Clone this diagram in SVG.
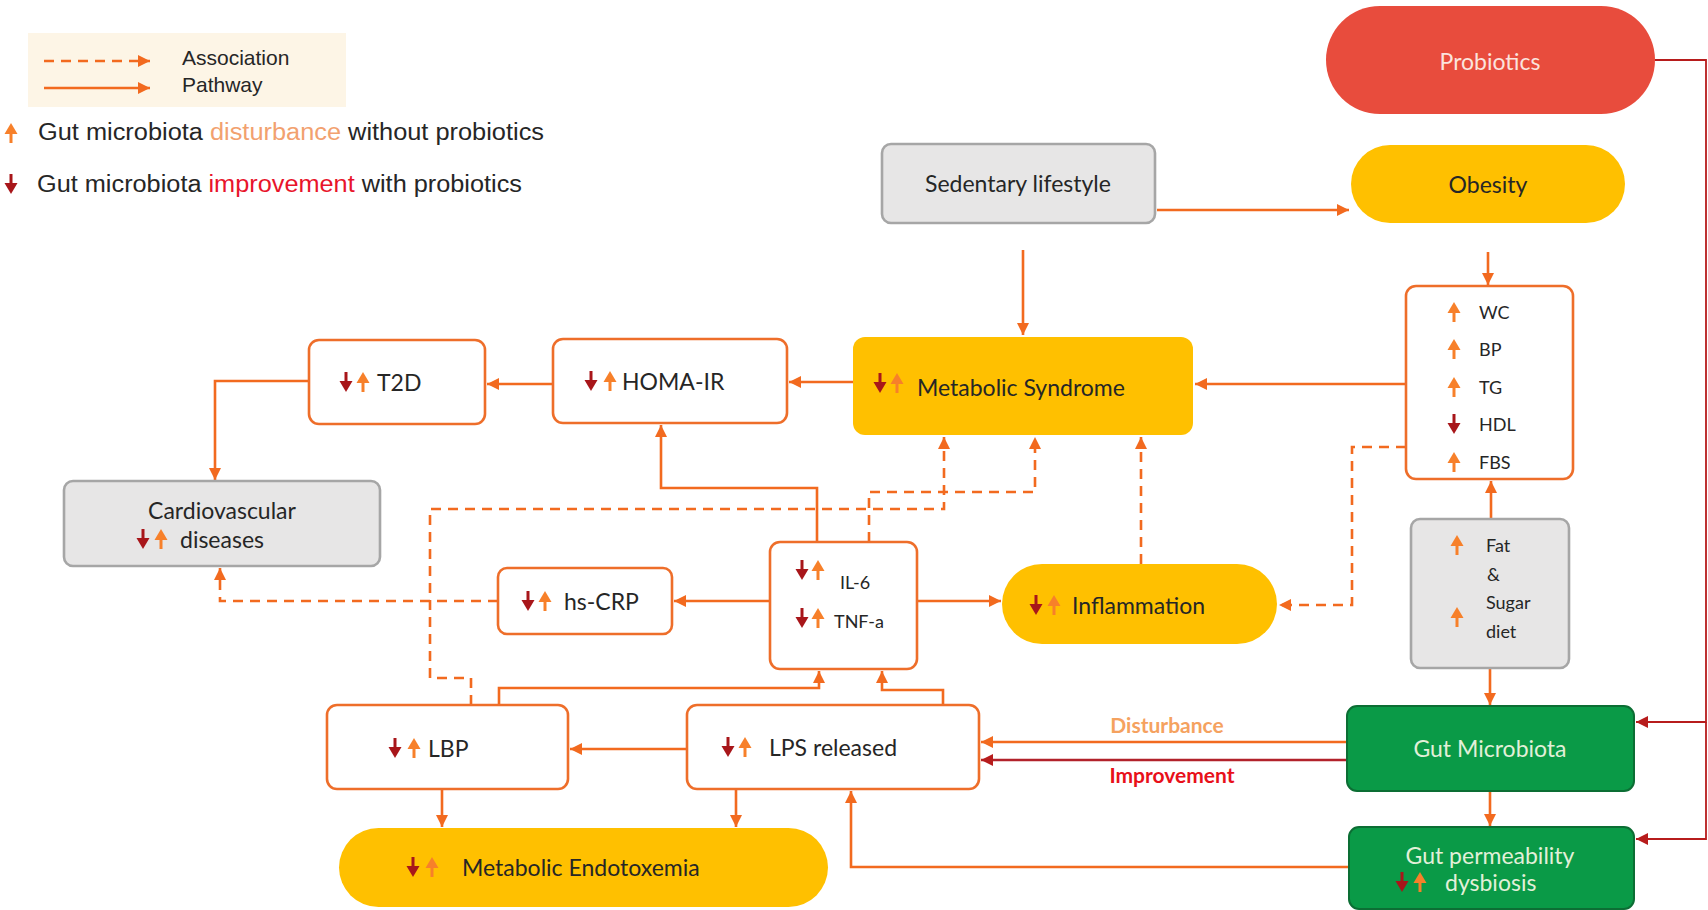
<svg xmlns="http://www.w3.org/2000/svg" width="1708" height="910" viewBox="0 0 1708 910">
<style>
.lbl{font-family:Lato,"Open Sans","Liberation Sans",sans-serif;font-size:23px;fill:#262626;dominant-baseline:central}
.sm{font-size:18px}
.leg{font-family:"Liberation Sans",Arial,sans-serif;fill:#262626;dominant-baseline:central}
.ob{fill:#fff;stroke:#EE6E2A;stroke-width:2.6}
.gy{fill:#E7E6E6;stroke:#A6A6A6;stroke-width:2.6}
.yl{fill:#FFC000}
.gr{fill:#0A9A47;stroke:#0C6E34;stroke-width:2}
.c{fill:none;stroke:#F26A1F;stroke-width:2.6}
.d{fill:none;stroke:#F26A1F;stroke-width:2.6;stroke-dasharray:10 7}
.r{fill:none;stroke:#B71C1C;stroke-width:1.8}
.lt{fill:#E2F0D9}
</style>
<defs>
<marker id="ah" viewBox="0 0 10 10" refX="10" refY="5" markerWidth="13" markerHeight="12" markerUnits="userSpaceOnUse" orient="auto"><path d="M0,0 L10,5 L0,10 z" fill="#F26A1F"/></marker>
<marker id="ar" viewBox="0 0 10 10" refX="10" refY="5" markerWidth="13" markerHeight="12" markerUnits="userSpaceOnUse" orient="auto"><path d="M0,0 L10,5 L0,10 z" fill="#B71C1C"/></marker>
<symbol id="dn" viewBox="-6 -11 12 22" width="12" height="22" overflow="visible"><path d="M0,-10 V2" stroke="#A8161A" stroke-width="3"/><path d="M-6.5,-1 H6.5 L0,10 z" fill="#A8161A"/></symbol>
<symbol id="up" viewBox="-6 -11 12 22" width="12" height="22" overflow="visible"><path d="M0,10 V-2" stroke="#F7802A" stroke-width="3"/><path d="M-6.5,1 H6.5 L0,-10 z" fill="#F7802A"/></symbol>
</defs>

<g id="legend">
<rect x="28" y="33" width="318" height="74" fill="#FDF5E6"/>
<path d="M44,61 H150" class="d" marker-end="url(#ah)"/>
<path d="M44,88 H150" class="c" marker-end="url(#ah)"/>
<text x="182" y="57" class="leg" font-size="21">Association</text>
<text x="182" y="84" class="leg" font-size="21">Pathway</text>
<use href="#up" x="5" y="122"/>
<text x="38" y="132" class="leg" font-size="23" textLength="506" lengthAdjust="spacingAndGlyphs">Gut microbiota <tspan fill="#F2A16F">disturbance</tspan> without probiotics</text>
<use href="#dn" x="5" y="173"/>
<text x="37" y="184" class="leg" font-size="23" textLength="485" lengthAdjust="spacingAndGlyphs">Gut microbiota <tspan fill="#E8142B">improvement</tspan> with probiotics</text>
</g>

<g id="connectors">
<path d="M1655,60 H1706 V722 H1636" class="r" marker-end="url(#ar)"/>
<path d="M1706,722 V839 H1636" class="r" marker-end="url(#ar)"/>
<path d="M1157,210 H1349" class="c" marker-end="url(#ah)"/>
<path d="M1023,250 V335" class="c" marker-end="url(#ah)"/>
<path d="M1488,252 V285" class="c" marker-end="url(#ah)"/>
<path d="M1406,384 H1195" class="c" marker-end="url(#ah)"/>
<path d="M853,382 H789" class="c" marker-end="url(#ah)"/>
<path d="M553,384 H487" class="c" marker-end="url(#ah)"/>
<path d="M309,381 H215 V480" class="c" marker-end="url(#ah)"/>
<path d="M817,542 V488 H661 V425" class="c" marker-end="url(#ah)"/>
<path d="M770,601 H674" class="c" marker-end="url(#ah)"/>
<path d="M917,601 H1001" class="c" marker-end="url(#ah)"/>
<path d="M498,601 H220 V568" class="d" marker-end="url(#ah)"/>
<path d="M1141,564 V437" class="d" marker-end="url(#ah)"/>
<path d="M1406,447 H1352 V605 H1279" class="d" marker-end="url(#ah)"/>
<path d="M869,542 V492 H1035 V437" class="d" marker-end="url(#ah)"/>
<path d="M471,705 V678 H430 V509 H944 V437" class="d" marker-end="url(#ah)"/>
<path d="M499,705 V688 H819 V671" class="c" marker-end="url(#ah)"/>
<path d="M943,705 V690 H882 V671" class="c" marker-end="url(#ah)"/>
<path d="M687,749 H570" class="c" marker-end="url(#ah)"/>
<path d="M442,789 V827" class="c" marker-end="url(#ah)"/>
<path d="M736,789 V827" class="c" marker-end="url(#ah)"/>
<path d="M1346,742 H981" class="c" marker-end="url(#ah)"/>
<path d="M1346,760 H981" fill="none" stroke="#B2222B" stroke-width="2.6" marker-end="url(#ar)"/>
<path d="M1349,867 H851 V791" class="c" marker-end="url(#ah)"/>
<path d="M1491,519 V481" class="c" marker-end="url(#ah)"/>
<path d="M1490,668 V705" class="c" marker-end="url(#ah)"/>
<path d="M1490,791 V826" class="c" marker-end="url(#ah)"/>
<text x="1167" y="724" font-family="Lato,'Open Sans',sans-serif" font-weight="bold" font-size="21" fill="#F5A25F" text-anchor="middle" dominant-baseline="central">Disturbance</text>
<text x="1172" y="774" font-family="Lato,'Open Sans',sans-serif" font-weight="bold" font-size="21" fill="#E8101A" text-anchor="middle" dominant-baseline="central">Improvement</text>
</g>

<g id="probiotics">
<rect x="1326" y="6" width="329" height="108" rx="54" fill="#E84C3D"/>
<text x="1490" y="61" class="lbl" text-anchor="middle" style="fill:#FBE3DE">Probiotics</text>
</g>
<g id="sedentary">
<rect x="882" y="144" width="273" height="79" rx="9" class="gy"/>
<text x="1018" y="183" class="lbl" text-anchor="middle">Sedentary lifestyle</text>
</g>
<g id="obesity">
<rect x="1351" y="145" width="274" height="78" rx="39" class="yl"/>
<text x="1488" y="184" class="lbl" text-anchor="middle">Obesity</text>
</g>
<g id="risk-factors">
<rect x="1406" y="286" width="167" height="193" rx="10" class="ob"/>
<use href="#up" x="1448" y="301"/><text x="1479" y="312" class="lbl sm">WC</text>
<use href="#up" x="1448" y="338"/><text x="1479" y="349" class="lbl sm">BP</text>
<use href="#up" x="1448" y="376"/><text x="1479" y="387" class="lbl sm">TG</text>
<use href="#dn" x="1448" y="413"/><text x="1479" y="424" class="lbl sm">HDL</text>
<use href="#up" x="1448" y="451"/><text x="1479" y="462" class="lbl sm">FBS</text>
</g>
<g id="metabolic-syndrome">
<rect x="853" y="337" width="340" height="98" rx="12" class="yl"/>
<use href="#dn" x="874" y="372"/><use href="#up" x="891" y="372"/>
<text x="917" y="387" class="lbl">Metabolic Syndrome</text>
</g>
<g id="homa-ir">
<rect x="553" y="339" width="234" height="84" rx="10" class="ob"/>
<use href="#dn" x="585" y="370"/><use href="#up" x="604" y="370"/>
<text x="622" y="381" class="lbl">HOMA-IR</text>
</g>
<g id="t2d">
<rect x="309" y="340" width="176" height="84" rx="10" class="ob"/>
<use href="#dn" x="340" y="371"/><use href="#up" x="357" y="371"/>
<text x="377" y="382" class="lbl">T2D</text>
</g>
<g id="cvd">
<rect x="64" y="481" width="316" height="85" rx="9" class="gy"/>
<text x="222" y="510" class="lbl" text-anchor="middle">Cardiovascular</text>
<use href="#dn" x="137" y="528"/><use href="#up" x="155" y="528"/>
<text x="180" y="539" class="lbl">diseases</text>
</g>
<g id="hs-crp">
<rect x="498" y="568" width="174" height="66" rx="9" class="ob"/>
<use href="#dn" x="522" y="590"/><use href="#up" x="539" y="590"/>
<text x="564" y="601" class="lbl">hs-CRP</text>
</g>
<g id="cytokines">
<rect x="770" y="542" width="147" height="127" rx="10" class="ob"/>
<use href="#dn" x="796" y="559"/><use href="#up" x="812" y="559"/>
<text x="840" y="582" class="lbl sm">IL-6</text>
<use href="#dn" x="796" y="607"/><use href="#up" x="812" y="607"/>
<text x="834" y="621" class="lbl sm">TNF-a</text>
</g>
<g id="inflammation">
<rect x="1002" y="564" width="275" height="80" rx="40" class="yl"/>
<use href="#dn" x="1030" y="594"/><use href="#up" x="1048" y="594"/>
<text x="1072" y="605" class="lbl">Inflammation</text>
</g>
<g id="diet">
<rect x="1411" y="519" width="158" height="149" rx="9" class="gy"/>
<use href="#up" x="1451" y="534"/><text x="1486" y="545" class="lbl sm">Fat</text>
<text x="1487" y="574" class="lbl sm">&amp;</text>
<use href="#up" x="1451" y="606"/><text x="1486" y="602" class="lbl sm">Sugar</text>
<text x="1486" y="631" class="lbl sm">diet</text>
</g>
<g id="gut-microbiota">
<rect x="1347" y="706" width="287" height="85" rx="10" class="gr"/>
<text x="1490" y="748" class="lbl" text-anchor="middle" style="fill:#E2F0D9">Gut Microbiota</text>
</g>
<g id="gut-permeability">
<rect x="1349" y="827" width="285" height="82" rx="10" class="gr"/>
<text x="1490" y="855" class="lbl" text-anchor="middle" style="fill:#E2F0D9">Gut permeability</text>
<use href="#dn" x="1396" y="871"/><use href="#up" x="1414" y="871"/>
<text x="1445" y="882" class="lbl" style="fill:#E2F0D9">dysbiosis</text>
</g>
<g id="lps">
<rect x="687" y="705" width="292" height="84" rx="10" class="ob"/>
<use href="#dn" x="722" y="736"/><use href="#up" x="739" y="736"/>
<text x="769" y="747" class="lbl">LPS released</text>
</g>
<g id="lbp">
<rect x="327" y="705" width="241" height="84" rx="10" class="ob"/>
<use href="#dn" x="389" y="737"/><use href="#up" x="408" y="737"/>
<text x="428" y="748" class="lbl">LBP</text>
</g>
<g id="endotoxemia">
<rect x="339" y="828" width="489" height="79" rx="39.5" class="yl"/>
<use href="#dn" x="407" y="856"/><use href="#up" x="426" y="856"/>
<text x="462" y="867" class="lbl">Metabolic Endotoxemia</text>
</g>
</svg>
